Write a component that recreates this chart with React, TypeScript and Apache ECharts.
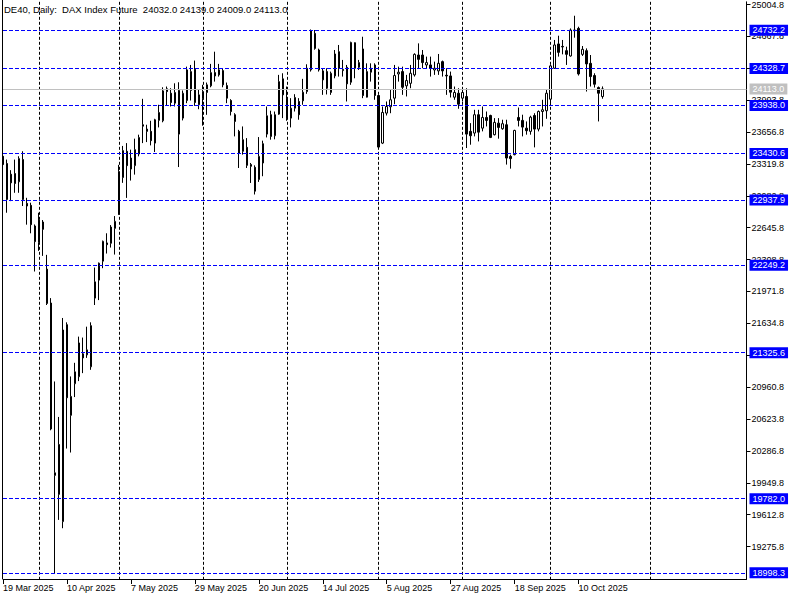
import React, { useEffect, useRef } from "react";
import * as echarts from "echarts";

const FONT = "'Liberation Sans', Arial, sans-serif";

const tradingDays: [string, number[]][] = [
  ["Mar", [19, 20, 21, 24, 25, 26, 27, 28, 31]],
  ["Apr", [1, 2, 3, 4, 7, 8, 9, 10, 11, 14, 15, 16, 17, 22, 23, 24, 25, 28, 29, 30]],
  ["May", [2, 5, 6, 7, 8, 9, 12, 13, 14, 15, 16, 19, 20, 21, 22, 23, 26, 27, 28, 29, 30]],
  ["Jun", [2, 3, 4, 5, 6, 9, 10, 11, 12, 13, 16, 17, 18, 19, 20, 23, 24, 25, 26, 27, 30]],
  ["Jul", [1, 2, 3, 4, 7, 8, 9, 10, 11, 14, 15, 16, 17, 18, 21, 22, 23, 24, 25, 28, 29, 30, 31]],
  ["Aug", [1, 4, 5, 6, 7, 8, 11, 12, 13, 14, 15, 18, 19, 20, 21, 22, 25, 26, 27, 28, 29]],
  ["Sep", [1, 2, 3, 4, 5, 8, 9, 10, 11, 12, 15, 16, 17, 18, 19, 22, 23, 24, 25, 26, 29, 30]],
  ["Oct", [1, 2, 3, 6, 7, 8, 9, 10, 13, 14, 15, 16, 17, 20]],
];
// empty slots to the right of the last bar (the chart shift area)
const FUTURE_SLOTS = 36;
// in the shift area the terminal extrapolates one calendar day per slot: 1 Nov is 12 days after 20 Oct
const FUTURE_MONTH_STARTS = [12];

const opens = [
  23401, 23324, 23211, 23218, 23131, 23366, 22903, 22882, 22664, 22489,
  22706, 22208, 21850, 20028, 20354, 19540, 21621, 20663, 20997, 21071,
  21313, 21302, 21176, 21902, 22092, 22292, 22485, 22481, 22639, 22787,
  23176, 23453, 23382, 23302, 23425, 23734, 23688, 23664, 23540, 23780,
  23776, 24114, 24067, 23962, 24096, 23804, 23990, 24096, 24320, 23945,
  24008, 24075, 24145, 24285, 24261, 24306, 24148, 23990, 23840, 23664,
  23453, 23495, 23313, 23284, 23155, 23330, 23635, 23840, 23618, 23846,
  24219, 24015, 23804, 23909, 23980, 23987, 24085, 24314, 24699, 24524,
  24208, 24296, 24075, 24250, 24506, 24306, 24341, 24183, 24601, 24341,
  24535, 24025, 24289, 24366, 24043, 23540, 23857, 23924, 24015, 24271,
  24296, 24145, 24172, 24261, 24471, 24471, 24366, 24366, 24313, 24303,
  24401, 24257, 24250, 24025, 24067, 24015, 24033, 23664, 23646, 23840,
  23698, 23811, 23832, 23629, 23751, 23692, 23734, 23400, 23418, 23811,
  23780, 23698, 23664, 23832, 23688, 23874, 23882, 24004, 24331, 24588,
  24562, 24517, 24461, 24728, 24752, 24478, 24517, 24383, 24254, 24127,
  24032,
];
const highs = [
  23430, 23366, 23254, 23366, 23401, 23454, 22962, 22910, 22680, 22804,
  22727, 22359, 21902, 21021, 20646, 21692, 21646, 21074, 21218, 21495,
  21485, 21600, 21646, 22225, 22278, 22510, 22587, 22674, 22769, 23310,
  23510, 23540, 23471, 23587, 23629, 24008, 23734, 23776, 23797, 23945,
  24130, 24138, 24120, 24172, 24183, 24096, 24348, 24366, 24412, 24103,
  24156, 24180, 24377, 24506, 24377, 24324, 24180, 24004, 23856, 23680,
  23716, 23593, 23330, 23305, 23604, 23566, 23927, 23882, 23874, 24261,
  24278, 24138, 24015, 24057, 24015, 24219, 24373, 24741, 24735, 24538,
  24331, 24331, 24296, 24524, 24577, 24419, 24366, 24612, 24604, 24419,
  24664, 24383, 24383, 24383, 24050, 23927, 23980, 24103, 24366, 24348,
  24348, 24261, 24366, 24489, 24594, 24524, 24454, 24454, 24401, 24482,
  24412, 24331, 24296, 24138, 24120, 24120, 24120, 23751, 23892, 23892,
  23927, 23874, 23840, 23804, 23804, 23787, 23787, 23418, 23681, 23916,
  23840, 23769, 23829, 23856, 23885, 23998, 24103, 24366, 24630, 24675,
  24630, 24559, 24752, 24886, 24770, 24566, 24541, 24471, 24278, 24138,
  24139,
];
const lows = [
  23290, 22804, 22927, 23015, 23015, 22875, 22678, 22587, 22183, 22401,
  22348, 21829, 20505, 18996, 19558, 19470, 20312, 20270, 20856, 21025,
  21109, 21270, 21144, 21829, 21881, 22218, 22373, 22436, 22362, 22780,
  23120, 22961, 23144, 23207, 23400, 23540, 23551, 23516, 23446, 23706,
  23760, 23934, 23927, 23927, 23287, 23780, 23962, 23990, 23934, 23898,
  23724, 23839, 24130, 24190, 24243, 24130, 23962, 23832, 23611, 23277,
  23418, 23277, 23119, 22997, 23130, 23190, 23600, 23576, 23580, 23839,
  23804, 23776, 23706, 23874, 23787, 23945, 24061, 24296, 24527, 24296,
  24050, 24054, 24050, 24225, 24243, 24243, 23980, 24156, 24225, 24313,
  24015, 24022, 24190, 23998, 23488, 23530, 23832, 23856, 23951, 24190,
  24050, 24033, 24120, 24243, 24331, 24331, 24331, 24243, 24261, 24261,
  24243, 24050, 24022, 23998, 23903, 23980, 23488, 23523, 23611, 23558,
  23664, 23716, 23593, 23621, 23587, 23681, 23313, 23270, 23411, 23716,
  23611, 23629, 23629, 23495, 23664, 23716, 23797, 23938, 24324, 24454,
  24478, 24366, 24454, 24654, 24254, 24461, 24085, 24138, 24127, 23769,
  24009,
];
const closes = [
  23313, 22945, 23120, 23113, 23376, 22945, 22875, 22678, 22499, 22727,
  22629, 21846, 20519, 20056, 19828, 21565, 20849, 20863, 21123, 21428,
  21270, 21355, 21611, 22074, 22271, 22502, 22467, 22653, 22713, 23240,
  23461, 23302, 23266, 23471, 23600, 23719, 23664, 23566, 23787, 23864,
  24092, 24085, 23969, 24075, 23635, 24067, 24314, 24296, 23969, 24050,
  24085, 24156, 24285, 24250, 24314, 24156, 24015, 23874, 23769, 23435,
  23576, 23305, 23295, 23032, 23400, 23534, 23829, 23611, 23840, 24190,
  24050, 23804, 23909, 24022, 23840, 24078, 24331, 24728, 24541, 24314,
  24303, 24120, 24278, 24482, 24331, 24320, 24166, 24604, 24331, 24391,
  24043, 24296, 24331, 24043, 23498, 23864, 23927, 23998, 24254, 24289,
  24130, 24201, 24278, 24478, 24425, 24391, 24391, 24331, 24331, 24383,
  24303, 24250, 24078, 24075, 23951, 24075, 23635, 23618, 23840, 23656,
  23811, 23780, 23600, 23759, 23706, 23745, 23382, 23376, 23674, 23780,
  23709, 23671, 23814, 23688, 23874, 23892, 24067, 24356, 24577, 24499,
  24556, 24478, 24735, 24735, 24271, 24531, 24377, 24243, 24162, 24067,
  24113,
];

const yTicks = [
  19275.8, 19612.8, 19949.8, 20286.8, 20623.8, 20960.8, 21297.8, 21634.8,
  21971.8, 22308.8, 22645.8, 22982.8, 23319.8, 23656.8, 23993.8, 24330.8,
  24667.8, 25004.8,
];
const levelLines = [24732.2, 24328.7, 23938.0, 23430.6, 22937.9, 22249.2, 21325.6, 19782.0, 18998.3];
const lastPrice = 24113.0;
const titleText = "DE40, Daily:  DAX Index Future  24032.0 24139.0 24009.0 24113.0";

const Y_MAX = 25033.2;
const Y_MIN = 18933.4;

export default function App() {
  const ref = useRef<HTMLDivElement>(null);
  useEffect(() => {
    if (!ref.current) return;
    const chart = echarts.init(ref.current, undefined, { renderer: "svg" });

    const dates: string[] = [];
    const monthStarts: number[] = [];
    tradingDays.forEach(([m, days]) => {
      monthStarts.push(dates.length);
      days.forEach((d) => dates.push(`${d} ${m} 2025`));
    });
    const nBars = dates.length;
    const gridIdx = new Set([
      ...monthStarts.slice(1),
      ...FUTURE_MONTH_STARTS.map((d) => nBars - 1 + d),
    ]);
    const xData = [...dates, ...new Array(FUTURE_SLOTS).fill("")];
    const candles = opens.map((o, i) => [o, closes[i], lows[i], highs[i]]);
    const labelInt = (idx: number) => idx % 16 === 0 && idx < nBars;

    const markData: any[] = levelLines.map((v) => ({
      yAxis: v,
      name: v.toFixed(1),
      lineStyle: { color: "#0000ff", type: [4, 2], width: 1 },
      label: { backgroundColor: "#0000ff" },
    }));
    markData.unshift({
      yAxis: lastPrice,
      name: lastPrice.toFixed(1),
      lineStyle: { color: "#c0c0c0", type: "solid", width: 1 },
      label: { backgroundColor: "#c0c0c0" },
    });

    chart.setOption({
      animation: false,
      backgroundColor: "#ffffff",
      grid: { left: 2.5, top: 0, width: 744, height: 579, show: false },
      xAxis: {
        type: "category",
        data: xData,
        boundaryGap: false,
        axisLine: { show: true, lineStyle: { color: "#000", width: 1 } },
        axisTick: { show: true, interval: labelInt, length: 5, lineStyle: { color: "#000" } },
        axisLabel: {
          show: true,
          interval: labelInt,
          align: "left",
          margin: 4,
          color: "#000",
          fontFamily: FONT,
          fontSize: 9,
        },
        splitLine: {
          show: true,
          interval: (idx: number) => gridIdx.has(idx),
          lineStyle: { color: "#000", type: [3, 2], width: 1 },
        },
      },
      yAxis: {
        type: "value",
        position: "right",
        min: Y_MIN,
        max: Y_MAX,
        axisLine: { show: true, lineStyle: { color: "#000", width: 1 } },
        axisTick: { show: true, length: 4, customValues: yTicks, lineStyle: { color: "#000" } },
        axisLabel: {
          show: true,
          customValues: yTicks,
          formatter: (v: number) => v.toFixed(1),
          margin: 5,
          color: "#000",
          fontFamily: FONT,
          fontSize: 9,
        },
        splitLine: { show: false },
      },
      series: [
        {
          type: "candlestick",
          data: candles,
          barWidth: 2,
          clip: true,
          itemStyle: {
            color: "#ffffff",
            color0: "#000000",
            borderColor: "#000000",
            borderColor0: "#000000",
            borderWidth: 1,
          },
          markLine: {
            silent: true,
            symbol: ["none", "none"],
            animation: false,
            label: {
              show: true,
              position: "end",
              formatter: "{b}",
              color: "#ffffff",
              fontFamily: FONT,
              fontSize: 9,
              lineHeight: 10,
              padding: [1, 3, 0, 3],
              distance: 3,
            },
            data: markData,
          },
        },
      ],
      graphic: [
        {
          type: "line",
          shape: { x1: 2.5, y1: 0, x2: 2.5, y2: 579 },
          style: { stroke: "#000", lineWidth: 1 },
          z: 10,
        },
        {
          type: "text",
          left: 4,
          top: 4,
          style: { text: titleText, fill: "#000", font: `9.5px ${FONT}` },
          z: 10,
        },
      ],
    });
    return () => chart.dispose();
  }, []);
  return (
    <div
      ref={ref}
      style={{ position: "fixed", left: 0, top: 0, width: 800, height: 600, background: "#fff" }}
    />
  );
}
